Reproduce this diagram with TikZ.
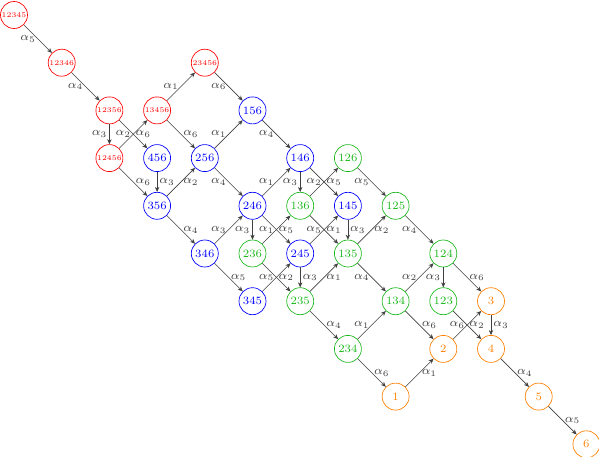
\documentclass[tikz,border=0pt]{standalone}
\usetikzlibrary{arrows.meta}
\definecolor{cgreen}{rgb}{0.1,0.72,0.1}
\tikzset{
  vtx/.style={circle, draw, minimum size=0.566cm, inner sep=0pt, line width=0.4pt, font=\fontsize{6.7}{7}\selectfont},
  nred/.style={vtx, red, font=\fontsize{4.3}{5}\selectfont},
  nblue/.style={vtx, blue},
  ngreen/.style={vtx, draw=cgreen, text=cgreen},
  norange/.style={vtx, orange},
  edg/.style={-{Stealth[length=3pt,width=2.6pt]}, line width=0.35pt, black!75},
  lab/.style={font=\fontsize{7.5}{8}\selectfont, inner sep=1.2pt, midway}
}
\begin{document}
\begin{tikzpicture}
\useasboundingbox (-0.2935,0.3145) rectangle (12.264,-9.266);
% red
\node[nred] (n12345) at (0,0) {12345};
\node[nred] (n12346) at (1,-1) {12346};
\node[nred] (n12356) at (2,-2) {12356};
\node[nred] (n12456) at (2,-3) {12456};
\node[nred] (n13456) at (3,-2) {13456};
\node[nred] (n23456) at (4,-1) {23456};
% blue
\node[nblue] (n456) at (3,-3) {456};
\node[nblue] (n256) at (4,-3) {256};
\node[nblue] (n356) at (3,-4) {356};
\node[nblue] (n156) at (5,-2) {156};
\node[nblue] (n146) at (6,-3) {146};
\node[nblue] (n246) at (5,-4) {246};
\node[nblue] (n346) at (4,-5) {346};
\node[nblue] (n145) at (7,-4) {145};
\node[nblue] (n245) at (6,-5) {245};
\node[nblue] (n345) at (5,-6) {345};
% green
\node[ngreen] (n126) at (7,-3) {126};
\node[ngreen] (n136) at (6,-4) {136};
\node[ngreen] (n236) at (5,-5) {236};
\node[ngreen] (n125) at (8,-4) {125};
\node[ngreen] (n135) at (7,-5) {135};
\node[ngreen] (n235) at (6,-6) {235};
\node[ngreen] (n124) at (9,-5) {124};
\node[ngreen] (n134) at (8,-6) {134};
\node[ngreen] (n123) at (9,-6) {123};
\node[ngreen] (n234) at (7,-7) {234};
% orange
\node[norange] (n3) at (10,-6) {3};
\node[norange] (n2) at (9,-7) {2};
\node[norange] (n4) at (10,-7) {4};
\node[norange] (n1) at (8,-8) {1};
\node[norange] (n5) at (11,-8) {5};
\node[norange] (n6) at (12,-9) {6};
% edges
\draw[edg] (n12345) -- node[lab,left]{$\alpha_5$} (n12346);
\draw[edg] (n12346) -- node[lab,left]{$\alpha_4$} (n12356);
\draw[edg] (n12356) -- node[lab,left]{$\alpha_3$} (n12456);
\draw[edg] (n12456) -- node[lab,left]{$\alpha_2$} (n13456);
\draw[edg] (n12356) -- node[lab,right]{$\alpha_6$} (n456);
\draw[edg] (n13456) -- node[lab,left]{$\alpha_1$} (n23456);
\draw[edg] (n13456) -- node[lab,right]{$\alpha_6$} (n256);
\draw[edg] (n12456) -- node[lab,right]{$\alpha_6$} (n356);
\draw[edg] (n456) -- node[lab,right]{$\alpha_3$} (n356);
\draw[edg] (n356) -- node[lab,right]{$\alpha_2$} (n256);
\draw[edg] (n23456) -- node[lab,left]{$\alpha_6$} (n156);
\draw[edg] (n256) -- node[lab,left]{$\alpha_1$} (n156);
\draw[edg] (n256) -- node[lab,left]{$\alpha_4$} (n246);
\draw[edg] (n156) -- node[lab,left]{$\alpha_4$} (n146);
\draw[edg] (n246) -- node[lab,left]{$\alpha_1$} (n146);
\draw[edg] (n146) -- node[lab,left]{$\alpha_3$} (n136);
\draw[edg] (n146) -- node[lab,right]{$\alpha_5$} (n145);
\draw[edg] (n136) -- node[lab,left]{$\alpha_2$} (n126);
\draw[edg] (n126) -- node[lab,left]{$\alpha_5$} (n125);
\draw[edg] (n346) -- node[lab,left]{$\alpha_3$} (n246);
\draw[edg] (n356) -- node[lab,right]{$\alpha_4$} (n346);
\draw[edg] (n246) -- node[lab,left]{$\alpha_3$} (n236);
\draw[edg] (n236) -- node[lab,left]{$\alpha_1$} (n136);
\draw[edg] (n246) -- node[lab,right]{$\alpha_5$} (n245);
\draw[edg] (n245) -- node[lab,right]{$\alpha_1$} (n145);
\draw[edg] (n136) -- node[lab,left]{$\alpha_5$} (n135);
\draw[edg] (n145) -- node[lab,right]{$\alpha_3$} (n135);
\draw[edg] (n346) -- node[lab,right]{$\alpha_5$} (n345);
\draw[edg] (n345) -- node[lab,right]{$\alpha_2$} (n245);
\draw[edg] (n236) -- node[lab,left]{$\alpha_5$} (n235);
\draw[edg] (n245) -- node[lab,right]{$\alpha_3$} (n235);
\draw[edg] (n235) -- node[lab,right]{$\alpha_1$} (n135);
\draw[edg] (n135) -- node[lab,left]{$\alpha_4$} (n134);
\draw[edg] (n135) -- node[lab,right]{$\alpha_2$} (n125);
\draw[edg] (n125) -- node[lab,left]{$\alpha_4$} (n124);
\draw[edg] (n134) -- node[lab,left]{$\alpha_2$} (n124);
\draw[edg] (n124) -- node[lab,left]{$\alpha_3$} (n123);
\draw[edg] (n124) -- node[lab,right]{$\alpha_6$} (n3);
\draw[edg] (n235) -- node[lab,right]{$\alpha_4$} (n234);
\draw[edg] (n234) -- node[lab,left]{$\alpha_1$} (n134);
\draw[edg] (n134) -- node[lab,right]{$\alpha_6$} (n2);
\draw[edg] (n123) -- node[lab,left]{$\alpha_6$} (n4);
\draw[edg] (n2) -- node[lab,right]{$\alpha_2$} (n3);
\draw[edg] (n3) -- node[lab,right]{$\alpha_3$} (n4);
\draw[edg] (n234) -- node[lab,right]{$\alpha_6$} (n1);
\draw[edg] (n1) -- node[lab,right]{$\alpha_1$} (n2);
\draw[edg] (n4) -- node[lab,right]{$\alpha_4$} (n5);
\draw[edg] (n5) -- node[lab,right]{$\alpha_5$} (n6);
\end{tikzpicture}
\end{document}
